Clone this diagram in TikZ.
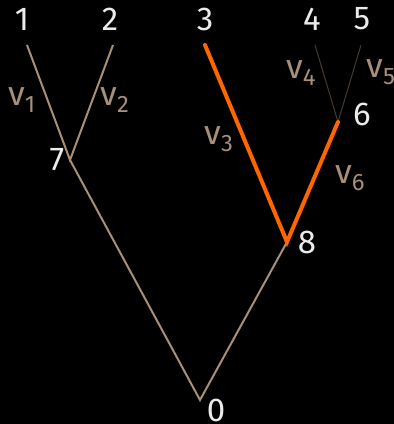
\documentclass[tikz,border=0pt]{standalone}
\usepackage{fontspec}
\setmainfont{Fira Sans}
\definecolor{tan}{RGB}{168,143,120}
\definecolor{hot}{RGB}{255,102,0}
\definecolor{dim}{RGB}{70,58,48}
\definecolor{ink}{RGB}{235,235,235}

\begin{document}
\begin{tikzpicture}[x=1pt, y=-1pt,
    num/.style={text=ink, font=\fontsize{33}{33}\selectfont, inner sep=0pt},
    len/.style={text=tan, font=\fontsize{34}{34}\selectfont, inner sep=0pt},
    edge/.style={tan, line width=2pt},
    path/.style={hot, line width=4pt, line cap=round},
    faint/.style={dim, line width=1pt}]
  \fill[black] (0,0) rectangle (394,424);
  \useasboundingbox (0,0) rectangle (394,424);
  % tip and branch points
  \coordinate (n1) at (27,45);
  \coordinate (n2) at (113,45);
  \coordinate (n3) at (205,45);
  \coordinate (n4) at (315,45);
  \coordinate (n5) at (361,45);
  \coordinate (n6) at (338,122);
  \coordinate (n7) at (70,160);
  \coordinate (n8) at (287,242);
  \coordinate (n0) at (200,400);
  \draw[edge] (n1) -- (n7) -- (n2);
  \draw[edge] (n7) -- (n0) -- (n8);
  \draw[faint] (n4) -- (n6) -- (n5);
  \draw[path] (n3) -- (n8) -- (n6);
  % vertex numbers
  \node[num] (t1) at (22,19) {1};
  \node[num] (t2) at (110,19) {2};
  \node[num] (t3) at (205,19) {3};
  \node[num] (t4) at (312,19) {4};
  \node[num] (t5) at (362,19) {5};
  \node[num] (t6) at (362,114) {6};
  \node[num] (t7) at (57,160) {7};
  \node[num] (t8) at (307,242) {8};
  \node[num] (t0) at (216,410) {0};
  % branch lengths
  \node[len] (v1) at (22,100) {v\textsubscript{1}};
  \node[len] (v2) at (115,100) {v\textsubscript{2}};
  \node[len] (v3) at (219,139) {v\textsubscript{3}};
  \node[len] (v4) at (301,73) {v\textsubscript{4}};
  \node[len] (v5) at (381,72) {v\textsubscript{5}};
  \node[len] (v6) at (350,178) {v\textsubscript{6}};
\end{tikzpicture}
\end{document}
